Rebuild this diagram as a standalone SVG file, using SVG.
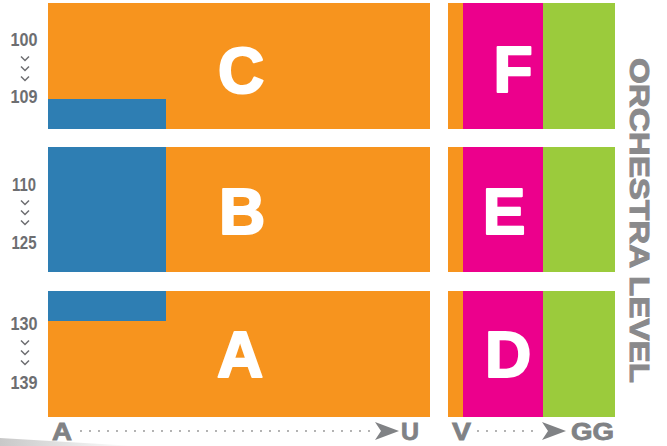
<svg xmlns="http://www.w3.org/2000/svg" width="667" height="446" viewBox="0 0 667 446">
<defs>
<linearGradient id="sw" x1="0" y1="0" x2="1" y2="0">
<stop offset="0" stop-color="#c8c8c8"/>
<stop offset="1" stop-color="#ffffff"/>
</linearGradient>
</defs>
<style>
.or{fill:#F7941E}.bl{fill:#2E7EB3}.pk{fill:#EC008C}.gr{fill:#9BCB3C}
.big{font-family:"Liberation Sans",Arial,sans-serif;font-weight:bold;font-size:64px;fill:#fff;stroke:#fff;stroke-width:2.2;stroke-linejoin:round;text-anchor:middle}
.num{font-family:"Liberation Sans",Arial,sans-serif;font-weight:bold;font-size:18px;fill:#6d6e71;text-anchor:middle}
.chev{fill:none;stroke:#6d6e71;stroke-width:1.5}
.ax{font-family:"Liberation Sans",Arial,sans-serif;font-weight:bold;font-size:24px;fill:#808285;stroke:#808285;stroke-width:0.8}
.dots{stroke:#9a9a9a;stroke-width:2;stroke-linecap:round;stroke-dasharray:0 9;fill:none}
.side{font-family:"Liberation Sans",Arial,sans-serif;font-weight:bold;font-size:28px;fill:#8a8a8c;stroke:#8a8a8c;stroke-width:1}
</style>
<polygon points="0,438 135,446 0,446" fill="url(#sw)"/>
<g id="section-C">
<rect class="or" x="48" y="3" width="382" height="126"/>
<rect class="bl" x="48" y="99" width="118" height="30"/>
<text class="big" x="241" y="93">C</text>
</g>
<g id="section-B">
<rect class="or" x="48" y="147" width="382" height="125"/>
<rect class="bl" x="48" y="147" width="118" height="125"/>
<text class="big" x="242" y="234">B</text>
</g>
<g id="section-A">
<rect class="or" x="48" y="291" width="382" height="126"/>
<rect class="bl" x="48" y="291" width="118" height="30"/>
<text class="big" x="240" y="377">A</text>
</g>
<g id="section-F">
<rect class="or" x="448" y="3" width="15" height="126"/>
<rect class="pk" x="463" y="3" width="80" height="126"/>
<rect class="gr" x="543" y="3" width="72" height="126"/>
<text class="big" x="513" y="92">F</text>
</g>
<g id="section-E">
<rect class="or" x="448" y="147" width="15" height="125"/>
<rect class="pk" x="463" y="147" width="80" height="125"/>
<rect class="gr" x="543" y="147" width="72" height="125"/>
<text class="big" x="504" y="234">E</text>
</g>
<g id="section-D">
<rect class="or" x="448" y="291" width="15" height="126"/>
<rect class="pk" x="463" y="291" width="80" height="126"/>
<rect class="gr" x="543" y="291" width="72" height="126"/>
<text class="big" x="508" y="377">D</text>
</g>
<g id="rows-C">
<text class="num" x="24" y="46" textLength="27" lengthAdjust="spacingAndGlyphs">100</text>
<polyline class="chev" points="21,56.5 25,60.5 29,56.5"/>
<polyline class="chev" points="21,66.5 25,70.5 29,66.5"/>
<polyline class="chev" points="21,76.5 25,80.5 29,76.5"/>
<text class="num" x="24" y="103" textLength="27" lengthAdjust="spacingAndGlyphs">109</text>
</g>
<g id="rows-B">
<text class="num" x="24" y="191" textLength="24" lengthAdjust="spacingAndGlyphs">110</text>
<polyline class="chev" points="21,200.5 25,204.5 29,200.5"/>
<polyline class="chev" points="21,210.5 25,214.5 29,210.5"/>
<polyline class="chev" points="21,220.5 25,224.5 29,220.5"/>
<text class="num" x="24" y="249" textLength="25" lengthAdjust="spacingAndGlyphs">125</text>
</g>
<g id="rows-A">
<text class="num" x="24" y="330" textLength="27" lengthAdjust="spacingAndGlyphs">130</text>
<polyline class="chev" points="21,340.5 25,344.5 29,340.5"/>
<polyline class="chev" points="21,350.5 25,354.5 29,350.5"/>
<polyline class="chev" points="21,360.5 25,364.5 29,360.5"/>
<text class="num" x="24" y="389" textLength="27" lengthAdjust="spacingAndGlyphs">139</text>
</g>
<g id="connectors">
<line class="dots" x1="81" y1="431" x2="372" y2="431"/>
<polygon points="375,422 399,431 375,440 381,431" fill="#808285"/>
<line class="dots" x1="478" y1="431" x2="538" y2="431"/>
<polygon points="542,422 566,431 542,440 548,431" fill="#808285"/>
</g>
<g id="axis-labels">
<text class="ax" x="52" y="440" textLength="20" lengthAdjust="spacingAndGlyphs">A</text>
<text class="ax" x="401" y="440" textLength="18" lengthAdjust="spacingAndGlyphs">U</text>
<text class="ax" x="452" y="440" textLength="19" lengthAdjust="spacingAndGlyphs">V</text>
<text class="ax" x="571" y="440" textLength="43" lengthAdjust="spacingAndGlyphs">GG</text>
</g>
<text class="side" transform="translate(630,58) rotate(90)" textLength="325" lengthAdjust="spacingAndGlyphs">ORCHESTRA LEVEL</text>
</svg>
